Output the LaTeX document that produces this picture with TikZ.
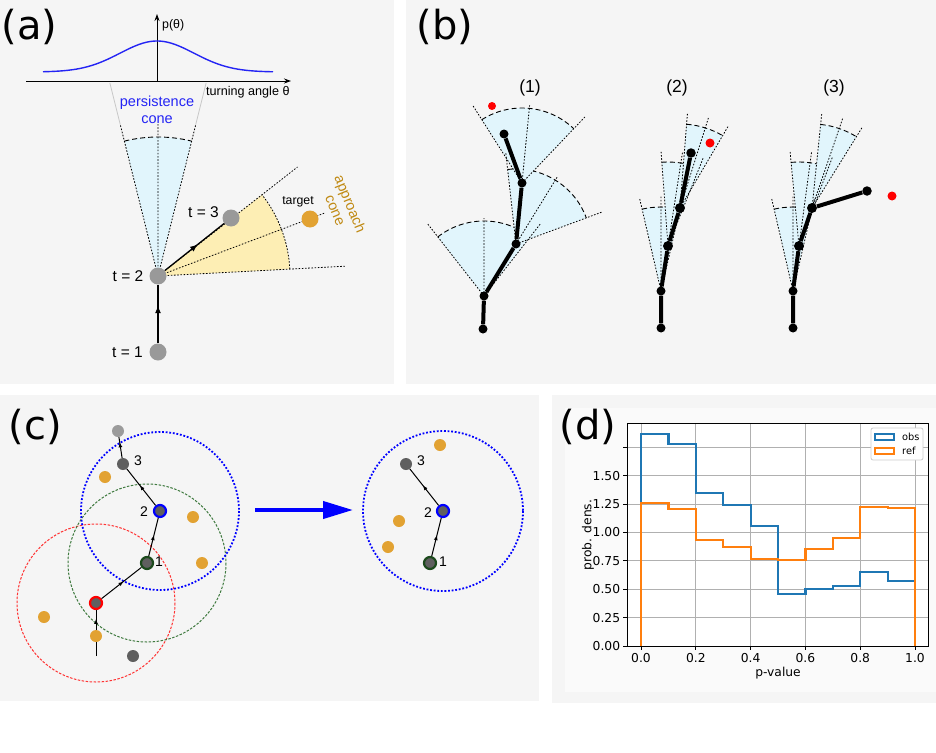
\documentclass[tikz,border=0pt]{standalone}
\usepackage{fontspec}
\setmainfont{Liberation Sans}
\newfontfamily\dvs{DejaVu Sans}
\usetikzlibrary{arrows.meta,decorations.markings}
\definecolor{panelbg}{HTML}{F5F5F5}
\definecolor{figbg}{HTML}{FAFAFA}
\definecolor{conefill}{HTML}{E1F5FC}
\definecolor{apfill}{HTML}{FDEEB4}
\definecolor{aptext}{HTML}{C08A14}
\definecolor{tgtorange}{HTML}{E2A232}
\definecolor{dotgray}{HTML}{999999}
\definecolor{dkgray}{HTML}{5F5F5F}
\definecolor{ltgray}{HTML}{9B9B9B}
\definecolor{curveblue}{HTML}{2424F4}
\definecolor{ringgreen}{HTML}{1C4A1C}
\definecolor{circgreen}{HTML}{3F7A3F}
\definecolor{circred}{HTML}{FF3333}
\definecolor{mplblue}{HTML}{1F77B4}
\definecolor{mplorange}{HTML}{FF7F0E}
\definecolor{gridgray}{HTML}{B0B0B0}
\newcommand\fsz[2]{\fontsize{#1}{#2}\selectfont}
\newcommand\bcone[4]{%
  \pgfmathsetmacro\angA{#2-#3}\pgfmathsetmacro\angB{#2+#3}%
  \fill[conefill] (#1) -- ++(\angA:#4) arc[start angle=\angA, end angle=\angB, radius=#4] -- cycle;
  \draw[dasharc] (#1) ++(\angA:#4) arc[start angle=\angA, end angle=\angB, radius=#4];
}
\newcommand\bconelines[5]{%
  \pgfmathsetmacro\angA{#2-#3}\pgfmathsetmacro\angB{#2+#3}%
  \draw[dotline] (#1) -- ++(\angA:#4) (#1) -- ++(#2:#5) (#1) -- ++(\angB:#4);
}
\begin{document}
\begin{tikzpicture}[x=1pt,y=-1pt,
  panellabel/.style={font=\dvs\fsz{40}{48}, anchor=base west, inner sep=0pt},
  adot/.style={circle, fill=dotgray, minimum size=17pt, inner sep=0pt},
  aconn/.style={line width=1.3pt, black},
  midarrow/.style={postaction={decorate},decoration={markings,mark=at position #1 with {\arrow{Latex[length=8pt,width=6pt]}}}},
  midarrow/.default=0.55,
  cmid/.style={postaction={decorate},decoration={markings,mark=at position #1 with {\arrow{Latex[length=5pt,width=4pt]}}}},
  cmid/.default=0.55,
  dotline/.style={line width=0.8pt, dash pattern=on 1.6pt off 1.6pt},
  dasharc/.style={line width=0.9pt, dash pattern=on 5pt off 3pt},
  ltline/.style={line width=0.8pt, black!22},
  lbl/.style={inner sep=0pt},
  bdot/.style={circle, fill=black, minimum size=9pt, inner sep=0pt},
  bline/.style={line width=4pt, black},
  reddot/.style={circle, fill=red, minimum size=8pt, inner sep=0pt},
  cdot/.style={circle, minimum size=12pt, inner sep=0pt},
  ring/.style={circle, fill=dkgray, line width=2.2pt, minimum size=12pt, inner sep=0pt},
  cconn/.style={line width=1pt, black},
  ticklbl/.style={font=\dvs\fsz{12.3}{14}, inner sep=0pt}
]
\useasboundingbox (0,0) rectangle (936,752);
\fill[white] (0,0) rectangle (936,752);
% panel backgrounds
\fill[panelbg] (0,0) rectangle (394,384);
\fill[panelbg] (406,0) rectangle (936,384);
\fill[panelbg] (0,395) rectangle (539,701);
\fill[panelbg] (552,395) rectangle (936,703);
\fill[figbg] (565,408) rectangle (936,692);

% ================= panel (a) =================
\node[panellabel] (la) at (1.6,39.7) {(a)};
\coordinate (axO) at (157,81);
\coordinate (axL) at (26,81);
\coordinate (axR) at (291,81);
\coordinate (axT) at (157,14);
\draw[line width=0.9pt, -{Stealth[length=7pt,width=5pt]}] (axL) -- (axR);
\draw[line width=0.9pt, -{Stealth[length=7pt,width=5pt]}] (axO) -- (axT);
\draw[curveblue, line width=1.4pt] plot[domain=43:273, samples=90, smooth] (\x, {72-31*exp(-((\x-157)^2)/2738)});
\node[lbl, anchor=west, font=\fsz{12.4}{15}] (lp) at (162,25) {p(θ)};
\node[lbl, anchor=west, font=\fsz{12.6}{15}] (lturn) at (206,92) {turning angle θ};

\coordinate (a2) at (158,276);
% persistence cone
\fill[conefill] (a2) -- ++(-104:139) arc[start angle=-104, end angle=-76, radius=139] -- cycle;
\draw[dasharc] (a2) ++(-104:139) arc[start angle=-104, end angle=-76, radius=139];
\draw[dotline] (a2) -- ++(-104:156) (a2) -- ++(-90:153) (a2) -- ++(-76:156);
\draw[ltline] (a2) ++(-104:156) -- ++(-104:43);
\draw[ltline] (a2) ++(-76:156) -- ++(-76:43);
% approach cone
\fill[apfill] (a2) -- ++(-3:132) arc[start angle=-3, end angle=-38, radius=132] -- cycle;
\draw[dotline] (a2) ++(-3:132) arc[start angle=-3, end angle=-38, radius=132];
\draw[dotline] (a2) -- ++(-3:187) (a2) -- ++(-38:177) (a2) -- ++(-20.7:178);

\node[adot] (t1) at (158,352) {};
\node[adot] (t2) at (a2) {};
\node[adot] (t3) at (231,218) {};
\node[adot, fill=tgtorange] (tgt) at (310,219) {};
\draw[aconn, midarrow=0.65] (t1) -- (t2);
\draw[aconn, midarrow=0.56] (t2) -- (t3);

\node[lbl, anchor=east, font=\fsz{15.5}{18}] (lt1) at (143,352) {t = 1};
\node[lbl, anchor=east, font=\fsz{15.5}{18}] (lt2) at (143.5,276) {t = 2};
\node[lbl, anchor=east, font=\fsz{15.5}{18}] (lt3) at (219,212) {t = 3};
\node[lbl, font=\fsz{12.3}{14}] (ltg) at (298,202) {target};
\node[lbl, align=center, text=curveblue, font=\fsz{14.5}{17}] (lpers) at (157,110) {persistence\\cone};
\node[lbl, align=center, text=aptext, rotate=-67.5, font=\fsz{14.5}{16}] (lappr) at (343,207) {approach\\cone};

% ================= panel (b) =================
\node[panellabel] (lb) at (416.6,39.7) {(b)};
\node[lbl, font=\fsz{17.5}{20}] (lb1) at (530,88) {(1)};
\node[lbl, font=\fsz{17.5}{20}] (lb2) at (677,88) {(2)};
\node[lbl, font=\fsz{17.5}{20}] (lb3) at (834,88) {(3)};

% sub 1
\coordinate (p0) at (483,329);
\coordinate (p1) at (484,296);
\coordinate (p2) at (516,244);
\coordinate (p3) at (522,183);
\coordinate (p4) at (504,134);
\bcone{p1}{-90}{38}{75}
\bcone{p2}{-58.4}{38}{75}
\bcone{p3}{-84.4}{38}{75}
\bconelines{p1}{-90}{38}{92}{78}
\bconelines{p2}{-58.4}{38}{92}{80}
\bconelines{p3}{-84.4}{38}{92}{78}
\node[bdot] (p0d) at (p0) {};
\node[bdot] (p1d) at (p1) {};
\node[bdot] (p2d) at (p2) {};
\node[bdot] (p3d) at (p3) {};
\node[bdot] (p4d) at (p4) {};
\draw[bline] (p0d) -- (p1d) -- (p2d) -- (p3d) -- (p4d);
\node[reddot] (rd1) at (492,106) {};

% sub 2
\coordinate (q0) at (661,328);
\coordinate (q1) at (661,291);
\coordinate (q2) at (668,246);
\coordinate (q3) at (680,208);
\coordinate (q4) at (691,153);
\bcone{q1}{-90}{13}{84}
\bcone{q2}{-81.2}{13}{84}
\bcone{q3}{-72.5}{13}{84}
\bconelines{q1}{-90}{13}{95}{95}
\bconelines{q2}{-81.2}{13}{95}{95}
\bconelines{q3}{-72.5}{13}{95}{95}
\node[bdot] (q0d) at (q0) {};
\node[bdot] (q1d) at (q1) {};
\node[bdot, minimum size=10pt] (q2d) at (q2) {};
\node[bdot, minimum size=10pt] (q3d) at (q3) {};
\node[bdot, minimum size=9.5pt] (q4d) at (q4) {};
\draw[bline] (q0d) -- (q1d) -- (q2d) -- (q3d) -- (q4d);
\node[reddot, minimum size=9pt] (rd2) at (710,143) {};

% sub 3
\coordinate (s0) at (793,328);
\coordinate (s1) at (793,291);
\coordinate (s2) at (799,246);
\coordinate (s3) at (812,208);
\coordinate (s4) at (867,191);
\bcone{s1}{-90}{13}{84}
\bcone{s2}{-82.4}{13}{84}
\bcone{s3}{-71.1}{13}{84}
\bconelines{s1}{-90}{13}{95}{95}
\bconelines{s2}{-82.4}{13}{95}{95}
\bconelines{s3}{-71.1}{13}{95}{95}
\node[bdot] (s0d) at (s0) {};
\node[bdot] (s1d) at (s1) {};
\node[bdot, minimum size=10pt] (s2d) at (s2) {};
\node[bdot, minimum size=10pt] (s3d) at (s3) {};
\node[bdot, minimum size=9.5pt] (s4d) at (s4) {};
\draw[bline] (s0d) -- (s1d) -- (s2d) -- (s3d) -- (s4d);
\node[reddot, minimum size=9pt] (rd3) at (892,196) {};

% ================= panel (c) =================
\node[panellabel] (lc) at (8.6,439.7) {(c)};
\coordinate (cc2) at (160,511);
\coordinate (cc1) at (147,563);
\coordinate (ccr) at (96,603);
\draw[circred, line width=1pt, dash pattern=on 2.5pt off 1.5pt] (ccr) circle[radius=79];
\draw[circgreen, line width=1pt, dash pattern=on 2.5pt off 1.5pt] (cc1) circle[radius=79];
\draw[blue, line width=1.8pt, dash pattern=on 1.8pt off 1.8pt] (cc2) circle[radius=79];
\node[cdot, fill=ltgray] (cg) at (118,431) {};
\node[cdot, fill=dkgray] (c3) at (123,464) {};
\node[ring, draw=blue] (c2) at (cc2) {};
\node[ring, draw=ringgreen] (c1) at (cc1) {};
\node[ring, draw=red] (cr) at (ccr) {};
\node[cdot, fill=tgtorange] (co1) at (96,636) {};
\node[cdot, fill=tgtorange] (co2) at (105,477) {};
\node[cdot, fill=tgtorange] (co3) at (193,517) {};
\node[cdot, fill=tgtorange] (co4) at (202,563) {};
\node[cdot, fill=tgtorange] (co5) at (44,617) {};
\node[cdot, fill=dkgray] (cdk) at (133,656) {};
\coordinate (cst) at (96,656);
\draw[cconn] (cst) -- (co1);
\draw[cconn, cmid] (co1) -- (cr);
\draw[cconn, cmid] (cr) -- (c1);
\draw[cconn, cmid] (c1) -- (c2);
\draw[cconn, cmid] (c2) -- (c3);
\draw[cconn, cmid=0.75] (c3) -- (cg);
\node[lbl, font=\fsz{14}{16}] (lc3) at (138,461) {3};
\node[lbl, font=\fsz{14}{16}] (lc2) at (144,512) {2};
\node[lbl, font=\fsz{14}{16}] (lc1) at (159,562) {1};

\coordinate (bigS) at (255,510);
\coordinate (bigE) at (353,510);
\draw[blue, line width=4pt, -{Triangle[length=30pt,width=17pt]}] (bigS) -- (bigE);

\coordinate (rc2) at (443,511);
\draw[blue, line width=1.8pt, dash pattern=on 1.8pt off 1.8pt] (rc2) circle[radius=80];
\node[ring, draw=blue] (n2r) at (rc2) {};
\node[ring, draw=ringgreen] (n1r) at (430,563) {};
\node[cdot, fill=dkgray] (n3r) at (406,464) {};
\node[cdot, fill=tgtorange] (or1) at (440,445) {};
\node[cdot, fill=tgtorange] (or2) at (399,521) {};
\node[cdot, fill=tgtorange] (or3) at (388,547) {};
\draw[cconn, cmid] (n1r) -- (n2r);
\draw[cconn, cmid] (n2r) -- (n3r);
\node[lbl, font=\fsz{14}{16}] (lr3) at (421,461) {3};
\node[lbl, font=\fsz{14}{16}] (lr2) at (428,513) {2};
\node[lbl, font=\fsz{14}{16}] (lr1) at (443,562) {1};

% ================= panel (d) =================
\begin{scope}[shift={(641,646)}, x=274pt, y=113.5pt]
  \fill[white] (-0.05,0) rectangle (1.05,1.965);
  \foreach \v in {0,0.2,0.4,0.6,0.8,1.0} {
    \draw[gridgray, line width=0.9pt] (\v,0) -- (\v,1.965);
    \draw[line width=0.8pt] (\v,0) -- ++(0,-4pt);
  }
  \foreach \v in {0,0.25,0.5,0.75,1.0,1.25,1.5,1.75} {
    \draw[gridgray, line width=0.9pt] (-0.05,\v) -- (1.05,\v);
    \draw[line width=0.8pt] (-0.05,\v) -- ++(-4pt,0);
  }
  \draw[mplblue, line width=2.2pt] (0,0) -- (0,1.87) -- (0.1,1.87) -- (0.1,1.78) -- (0.2,1.78) -- (0.2,1.345) -- (0.3,1.345) -- (0.3,1.245) -- (0.4,1.245) -- (0.4,1.06) -- (0.5,1.06) -- (0.5,0.46) -- (0.6,0.46) -- (0.6,0.505) -- (0.7,0.505) -- (0.7,0.53) -- (0.8,0.53) -- (0.8,0.655) -- (0.9,0.655) -- (0.9,0.575) -- (1,0.575) -- (1,0);
  \draw[mplorange, line width=2.2pt] (0,0) -- (0,1.263) -- (0.1,1.263) -- (0.1,1.204) -- (0.2,1.204) -- (0.2,0.934) -- (0.3,0.934) -- (0.3,0.87) -- (0.4,0.87) -- (0.4,0.764) -- (0.5,0.764) -- (0.5,0.758) -- (0.6,0.758) -- (0.6,0.857) -- (0.7,0.857) -- (0.7,0.954) -- (0.8,0.954) -- (0.8,1.222) -- (0.9,1.222) -- (0.9,1.216) -- (1,1.216) -- (1,0);
  \draw[line width=0.9pt] (-0.05,0) rectangle (1.05,1.965);
  \foreach \v/\t in {0/0.0,0.2/0.2,0.4/0.4,0.6/0.6,0.8/0.8,1.0/1.0}
    \node[ticklbl, anchor=north] at ([yshift=-7pt]\v,0) {\t};
  \foreach \v/\t in {0/0.00,0.25/0.25,0.5/0.50,0.75/0.75,1.0/1.00,1.25/1.25,1.5/1.50}
    \node[ticklbl, anchor=east] at ([xshift=-7pt]-0.05,\v) {\t};
\end{scope}
\node[ticklbl] (lpv) at (778,673) {p-value};
\node[ticklbl, rotate=90] (lpd) at (588,535) {prob. dens.};
% legend
\draw[black!20, fill=white, line width=0.8pt, rounded corners=2pt] (871,428) rectangle (923,460);
\draw[mplblue, line width=2pt] (875,434) rectangle (894,440);
\draw[mplorange, line width=2pt] (875,448) rectangle (894,454);
\node[lbl, anchor=west, font=\dvs\fsz{9.8}{12}] (lobs) at (902,437) {obs};
\node[lbl, anchor=west, font=\dvs\fsz{9.8}{12}] (lref) at (902,451) {ref};
\node[panellabel] (ld) at (559.6,439.7) {(d)};
\end{tikzpicture}
\end{document}
